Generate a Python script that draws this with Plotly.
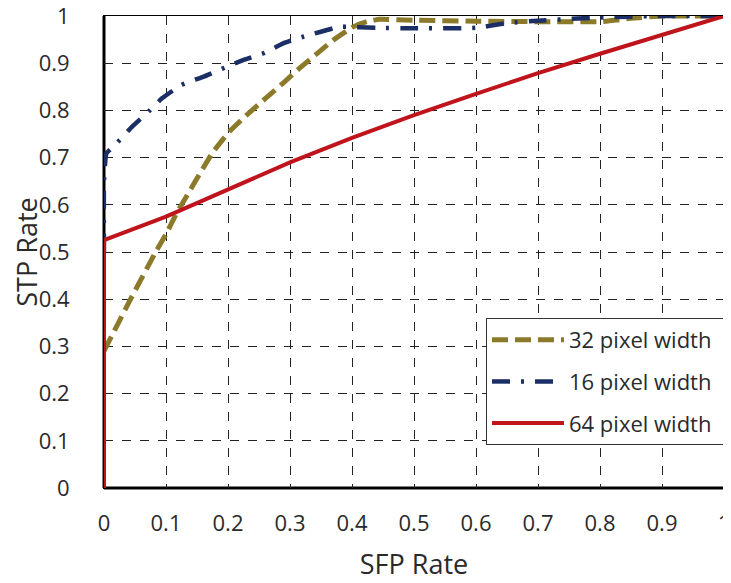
import plotly.graph_objects as go

# 32 pixel width (dashed, gold)
x32 = [0.0, 0.042, 0.085, 0.101, 0.117, 0.139, 0.16, 0.176, 0.2, 0.23, 0.26, 0.289, 0.316, 0.345,
       0.37, 0.402, 0.424, 0.445, 0.5, 0.6, 0.7, 0.8, 0.85, 0.9, 1.0]
y32 = [0.29, 0.398, 0.504, 0.54, 0.582, 0.631, 0.678, 0.712, 0.752, 0.79, 0.825, 0.858, 0.89, 0.922,
       0.949, 0.977, 0.988, 0.993, 0.991, 0.989, 0.988, 0.988, 0.995, 1.0, 1.0]

# 16 pixel width (dash-dot, navy)
x16 = [0.0, 0.0, 0.004, 0.018, 0.045, 0.074, 0.093, 0.125, 0.16, 0.192, 0.225, 0.257, 0.289, 0.321,
       0.37, 0.385, 0.44, 0.5, 0.6, 0.65, 0.7, 0.8, 0.9, 1.0]
y16 = [0.5, 0.65, 0.709, 0.727, 0.765, 0.80, 0.825, 0.854, 0.871, 0.889, 0.907, 0.921, 0.942, 0.956,
       0.974, 0.977, 0.975, 0.974, 0.975, 0.985, 0.99, 0.997, 1.0, 1.0]

# 64 pixel width (solid, red)
x64 = [0.0, 0.0, 0.1, 0.2, 0.3, 0.4, 0.5, 0.6, 0.7, 0.8, 0.9, 1.0]
y64 = [0.0, 0.525, 0.575, 0.633, 0.69, 0.742, 0.79, 0.835, 0.879, 0.92, 0.96, 1.0]

x_ticks = [0, 0.1, 0.2, 0.3, 0.4, 0.5, 0.6, 0.7, 0.8, 0.9, 1]
tick_text = ["0", "0.1", "0.2", "0.3", "0.4", "0.5", "0.6", "0.7", "0.8", "0.9", "1"]

FONT = "Open Sans"
TXT = "#2a2a2a"
PAD = "\u00a0"

fig = go.Figure()
fig.add_trace(go.Scatter(x=x32, y=y32, mode="lines", name="32 pixel width" + PAD,
                         line=dict(color="#8C7A2B", width=5, dash="16px,7px", shape="spline", smoothing=0.4),
                         legendgroup="a", cliponaxis=False))
fig.add_trace(go.Scatter(x=x16, y=y16, mode="lines", name="16 pixel width" + PAD,
                         line=dict(color="#1B2F66", width=4.5, dash="18px,11px,3px,11px", shape="spline", smoothing=0.4),
                         legendgroup="b", cliponaxis=False))
fig.add_trace(go.Scatter(x=x64, y=y64, mode="lines", name="64 pixel width" + PAD,
                         line=dict(color="#C0141C", width=4),
                         legendgroup="c", cliponaxis=False))

axis_common = dict(
    range=[0, 1], tickvals=x_ticks, ticktext=tick_text,
    showgrid=True, gridcolor="#222222", gridwidth=1, griddash="dash",
    showline=True, linecolor="black", linewidth=1, mirror=True,
    zeroline=False, ticks="", layer="below traces", automargin=False,
    ticklabeloverflow="allow",
    tickfont=dict(family=FONT, size=22, color=TXT),
)

# the page body adds an 8px offset, so the figure is 8px smaller on each axis
fig.update_layout(
    width=723, height=575,
    margin=dict(l=96, r=7, t=8, b=95),
    paper_bgcolor="white", plot_bgcolor="white",
    showlegend=True,
    legend=dict(x=1.0, y=0.091, xanchor="right", yanchor="bottom",
                bgcolor="white", bordercolor="#333333", borderwidth=1,
                font=dict(family=FONT, size=22, color=TXT),
                traceorder="grouped", tracegroupgap=10, itemwidth=72),
    xaxis=dict(**axis_common,
               title=dict(text="SFP Rate", font=dict(family=FONT, size=27, color=TXT), standoff=18),
               ticklabelstandoff=16),
    yaxis=dict(**axis_common,
               title=dict(text="STP Rate", font=dict(family=FONT, size=27, color=TXT), standoff=17),
               ticklabelstandoff=29),
)

# thicker left and bottom axis lines
fig.add_shape(type="line", xref="paper", yref="paper", x0=0, x1=1, y0=0, y1=0,
              line=dict(color="black", width=3), layer="below")
fig.add_shape(type="line", xref="paper", yref="paper", x0=0, x1=0, y0=0, y1=1,
              line=dict(color="black", width=3), layer="below")

fig.write_html("out.html")
